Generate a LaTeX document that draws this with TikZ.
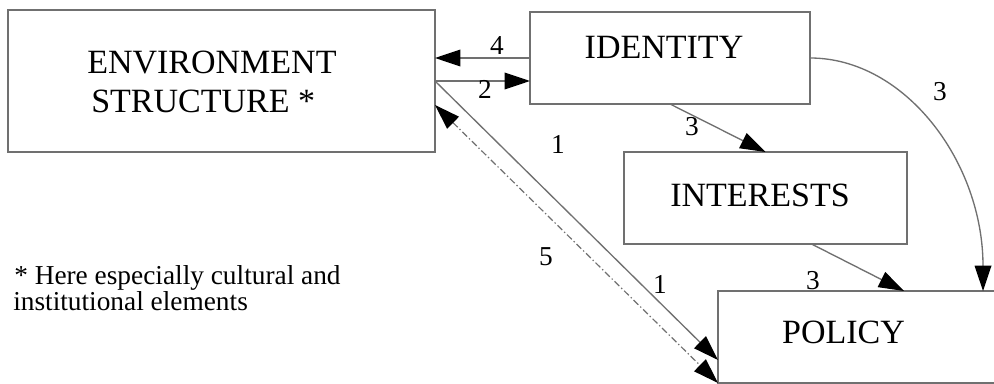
\documentclass[tikz,border=0pt]{standalone}
\usepackage{fontspec}
\setmainfont{Liberation Serif}
\usetikzlibrary{arrows.meta,calc}
\definecolor{linegray}{RGB}{112,112,112}
\begin{document}
\begin{tikzpicture}[x=0.75pt,y=-0.75pt,
  box/.style={draw=linegray, line width=1pt, rectangle, inner sep=0pt, outer sep=0pt},
  tip/.style={},
  conn/.style={draw=linegray, line width=1pt, -{Triangle[length=19pt,width=12.5pt,color=black]}},
  dconn/.style={draw=linegray, line width=0.9pt, dash pattern=on 5pt off 2pt on 1pt off 2pt,
     {Triangle[length=19pt,width=12.5pt,color=black]}-{Triangle[length=19pt,width=12.5pt,color=black]}},
  big/.style={font=\fontsize{25.5}{30}\selectfont, inner sep=0pt},
  num/.style={font=\fontsize{20.5}{24}\selectfont, inner sep=0pt, anchor=base},
  note/.style={font=\fontsize{20.5}{24}\selectfont, inner sep=0pt, anchor=base west}]
\clip (0,0) rectangle (994,384);
\fill[white] (0,0) rectangle (994,384);
% boxes
\node[box, minimum width={427*0.75pt}, minimum height={142*0.75pt}] (env) at (221.5,81) {};
\node[box, minimum width={280*0.75pt}, minimum height={92*0.75pt}] (id) at (670,58) {};
\node[box, minimum width={283*0.75pt}, minimum height={92*0.75pt}] (int) at (765.5,198) {};
\node[box, minimum width={292*0.75pt}, minimum height={92*0.75pt}] (pol) at (864,337) {};
% box texts
\node[big, anchor=base west] (tenv1) at (87,74) {ENVIRONMENT};
\node[big, anchor=base west] (tenv2) at (91,113) {STRUCTURE *};
\node[big, anchor=base] (tid) at (664,59) {IDENTITY};
\node[big, anchor=base] (tint) at (760,207) {INTERESTS};
\node[big, anchor=base] (tpol) at (843.5,343) {POLICY};
% note
\node[note] (note1) at (14,284) {* Here especially cultural and};
\node[note] (note2) at (13,310) {institutional elements};
% connectors
\draw[conn] (id.west) -- (env.east |- id.west);
\draw[conn] (env.east) -- (id.west |- env.east);
\draw[conn] (env.east) -- ($(pol.south west)+(0,-23)$);
\draw[dconn] ($(env.east)+(0,24)$) -- (pol.south west);
\draw[conn] (id.south) -- (int.north);
\draw[conn] ($(int.south)+(46,0)$) -- ($(pol.north west)+(186,0)$);
\draw[conn] (id.east) .. controls +(95,0) and +(0,-129) .. ($(pol.north west)+(265,0)$);
% labels
\node[num] (l4) at (497,55) {4};
\node[num] (l2) at (485,99) {2};
\node[num] (l1a) at (558,154) {1};
\node[num] (l1b) at (660,293) {1};
\node[num] (l5) at (546,266) {5};
\node[num] (l3a) at (692,136) {3};
\node[num] (l3b) at (813,289) {3};
\node[num] (l3c) at (940,101) {3};
\end{tikzpicture}
\end{document}
